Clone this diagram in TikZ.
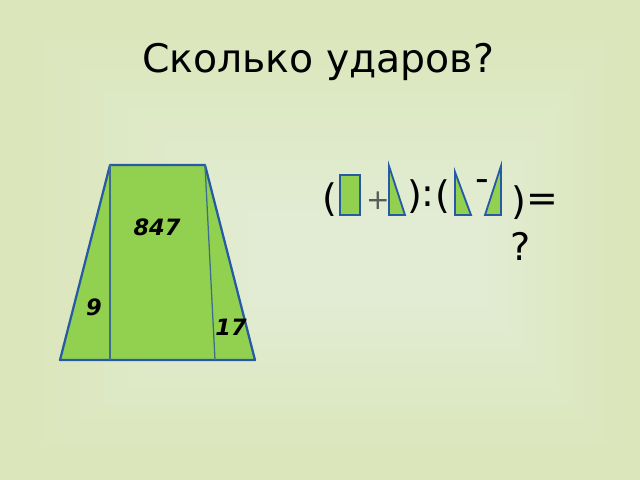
\documentclass[tikz,border=0pt]{standalone}
\usepackage{fontspec}
\setmainfont{DejaVu Sans}
\definecolor{bgout}{RGB}{219,230,187}
\definecolor{bgin}{RGB}{226,236,212}
\definecolor{figfill}{RGB}{146,208,80}
\definecolor{figline}{RGB}{38,90,165}
\definecolor{innerline}{RGB}{60,110,140}
\begin{document}
\begin{tikzpicture}[
    x=0.025cm, y=-0.025cm,
    % Styles
    figure/.style={draw=figline, line width=1.6pt, fill=figfill, line join=round},
    cut/.style={draw=innerline, line width=0.9pt},
    piece/.style={draw=figline, line width=1.3pt, fill=figfill, line join=miter},
    sym/.style={font=\fontsize{27}{30}\selectfont, inner sep=0pt},
    num/.style={font=\fontsize{16}{18}\selectfont\bfseries\itshape, inner sep=0pt}
]

% --- Hintergrund ---
\fill[bgout] (0,0) rectangle (640,480);
\foreach \i in {1,...,20}{
  \pgfmathsetmacro{\p}{5*\i}
  \fill[bgin!\p!bgout] (20+12*\i,20+10*\i) rectangle (620-7*\i,460-8*\i);
}
\useasboundingbox (0,0) rectangle (640,480);

% --- Titel ---
\node[font=\fontsize{28}{32}\selectfont] (title) at (318,62) {Сколько ударов?};

% --- Trapez ---
\draw[figure] (110,165) -- (205,165) -- (255,360) -- (60,360) -- cycle;
\draw[cut] (110,165) -- (110,360);
\draw[cut] (205,165) -- (215,360);
\node[num] (mid) at (157,227) {847};
\node[num] (left) at (94,307) {9};
\node[num] (right) at (231,327) {17};

% --- Formel ---
\node[sym] (lp1) at (330,200) {(};
\draw[piece] (340,175) rectangle (360,215);
\node[sym, font=\fontsize{20}{24}\selectfont, text=black!65] (plus) at (378,201) {+};
\draw[piece] (389,166) -- (389,215) -- (405,215) -- cycle;
\node[sym] (rp1) at (415,197) {)};
\node[sym] (colon) at (428,197) {:};
\node[sym] (lp2) at (443,197) {(};
\draw[piece] (455,172) -- (455,215) -- (471,215) -- cycle;
\node[sym] (minus) at (482,186) {-};
\draw[piece] (501,166) -- (501,215) -- (485,215) -- cycle;
\node[sym] (rp2) at (519,203) {)};
\node[sym] (eq) at (542,203) {=};
\node[sym] (ask) at (521,246) {?};

\end{tikzpicture}
\end{document}
